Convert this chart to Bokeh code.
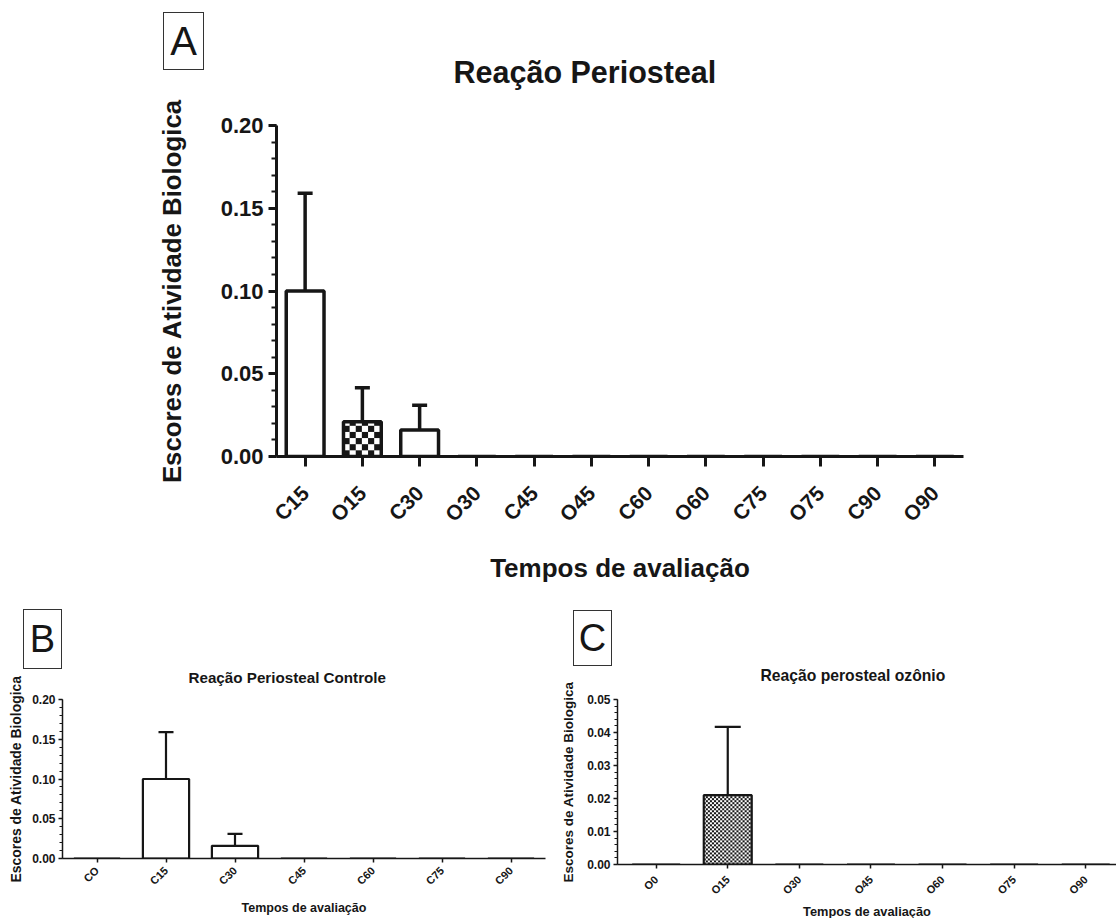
import math
import numpy as np
from bokeh.plotting import figure
from bokeh.models import (ColumnDataSource, Range1d, FixedTicker, SingleIntervalTicker,
                          NumeralTickFormatter, Whisker, TeeHead, Div)
from bokeh.layouts import column, row
from bokeh.embed import file_html
from bokeh.resources import INLINE

# ---------------- data ----------------
cats_a = ["C15", "O15", "C30", "O30", "C45", "O45", "C60", "O60", "C75", "O75", "C90", "O90"]
mean_a = [0.100, 0.021, 0.016, 0, 0, 0, 0, 0, 0, 0, 0, 0]
err_a = [0.059, 0.0205, 0.015, 0, 0, 0, 0, 0, 0, 0, 0, 0]

cats_b = ["CO", "C15", "C30", "C45", "C60", "C75", "C90"]
mean_b = [0, 0.100, 0.016, 0, 0, 0, 0]
err_b = [0, 0.059, 0.015, 0, 0, 0, 0]

cats_c = ["O0", "O15", "O30", "O45", "O60", "O75", "O90"]
mean_c = [0, 0.021, 0, 0, 0, 0, 0]
err_c = [0, 0.0207, 0, 0, 0, 0, 0]

title_a = "Reação Periosteal"
title_b = "Reação Periosteal Controle"
title_c = "Reação perosteal ozônio"
ylab = "Escores de Atividade Biologica"
xlab = "Tempos de avaliação"

FONT = "Liberation Sans"
INK = "#161616"
BLACK_PX = np.uint32(0xFF161616)
WHITE_PX = np.uint32(0xFFFFFFFF)


def panel(cats, means, errs, ymax, yint, st):
    n = len(cats)
    x0, x1 = st.get("xstart", -0.5), st.get("xend", n - 0.5)
    p = figure(frame_width=st["fw"], frame_height=st["fh"],
               min_border_left=st["bl"], min_border_right=st["br"],
               min_border_top=st["bt"], min_border_bottom=st["bb"],
               x_range=Range1d(x0, x1), y_range=Range1d(0, ymax),
               output_backend="svg", toolbar_location=None)
    p.outline_line_color = None
    p.xgrid.visible = False
    p.ygrid.visible = False
    p.background_fill_color = "white"
    p.border_fill_color = "white"

    xs = list(range(n))
    is_o = [c.startswith("O") for c in cats]
    src = ColumnDataSource(dict(x=xs, top=means))
    # white bars
    p.vbar(x="x", top="top", bottom=0, width=st["bw"], source=src,
           fill_color="white", line_color=None)
    # checkered fill for the ozone ("O") bars
    ppx = st["fw"] / (x1 - x0)
    ppy = st["fh"] / ymax
    sq = st["sq"]
    for x, t, o in zip(xs, means, is_o):
        if not o or t <= 0:
            continue
        ny = max(1, int(round(t * ppy)))
        nx = max(1, int(round(st["bw"] * ppx)))
        jj, ii = np.meshgrid(np.arange(nx), np.arange(ny))
        mask = ((ii // sq) + (jj // sq)) % 2 == 0
        img = np.where(mask, BLACK_PX, WHITE_PX).astype(np.uint32)
        p.image_rgba(image=[img], x=x - st["bw"] / 2, y=0, dw=st["bw"], dh=t)
    # outlines
    p.vbar(x="x", top="top", bottom=0, width=st["bw"], source=src,
           fill_color=None, line_color=INK, line_width=st["lw"])

    sel = [i for i in xs if errs[i] > 0]
    esrc = ColumnDataSource(dict(x=[xs[i] for i in sel], lo=[means[i] for i in sel],
                                 hi=[means[i] + errs[i] for i in sel]))
    w = Whisker(source=esrc, base="x", lower="lo", upper="hi", dimension="height",
                line_color=INK, line_width=st["lw"], lower_head=None,
                upper_head=TeeHead(size=st["cap"], line_color=INK, line_width=st["lw"]))
    p.add_layout(w)

    xa = p.xaxis[0]
    xa.ticker = FixedTicker(ticks=xs)
    xa.major_label_overrides = {i: c for i, c in enumerate(cats)}
    xa.major_label_orientation = math.pi / 4
    xa.major_label_text_font = FONT
    xa.major_label_text_font_style = "bold"
    xa.major_label_text_font_size = st["xt"]
    xa.major_label_text_color = INK
    xa.major_label_standoff = st["xls"]
    xa.axis_line_width = st["aw"]
    xa.axis_line_color = INK
    xa.major_tick_line_width = st["aw"]
    xa.major_tick_line_color = INK
    xa.major_tick_out = st["xto"]
    xa.major_tick_in = 0
    xa.minor_tick_line_color = None
    xa.axis_label = xlab
    xa.axis_label_text_font = FONT
    xa.axis_label_text_font_style = "bold"
    xa.axis_label_text_font_size = st["xl"]
    xa.axis_label_text_color = INK
    xa.axis_label_standoff = st["xas"]

    ya = p.yaxis[0]
    ya.ticker = SingleIntervalTicker(interval=yint, num_minor_ticks=5)
    ya.formatter = NumeralTickFormatter(format="0.00")
    ya.major_label_text_font = FONT
    ya.major_label_text_font_style = "bold"
    ya.major_label_text_font_size = st["yt"]
    ya.major_label_text_color = INK
    ya.major_label_standoff = st["yls"]
    ya.axis_line_width = st["aw"]
    ya.axis_line_color = INK
    ya.major_tick_line_width = st["aw"]
    ya.major_tick_line_color = INK
    ya.major_tick_out = st["yto"]
    ya.major_tick_in = 0
    ya.minor_tick_line_width = st["mw"]
    ya.minor_tick_line_color = INK
    ya.minor_tick_out = st["mto"]
    ya.minor_tick_in = 0
    ya.axis_label = ylab
    ya.axis_label_text_font = FONT
    ya.axis_label_text_font_style = "bold"
    ya.axis_label_text_font_size = st["yl"]
    ya.axis_label_text_color = INK
    ya.axis_label_standoff = st["yas"]

    p.title.text = st["title"]
    p.title.align = "left"
    p.title.offset = st["to"]
    p.title.text_font = FONT
    p.title.text_font_style = "bold"
    p.title.text_font_size = st["tf"]
    p.title.text_color = INK
    p.title.standoff = st["ts"]
    return p


def letter(ch, w, h, fs, margin):
    html = ('<div style="box-sizing:border-box;width:%dpx;height:%dpx;border:1.5px solid #333;'
            'display:flex;align-items:center;justify-content:center;'
            "font-family:'Liberation Sans',Arial,sans-serif;font-size:%dpx;line-height:1;"
            'color:#161616;background:transparent;">%s</div>' % (w, h, fs, ch))
    return Div(text=html, width=w, height=h, margin=margin)


st_a = dict(fw=687, fh=331, bl=276, br=153, bt=125, bb=132, bw=0.66, lw=3.5, sq=6, cap=15,
            xt="21px", xls=23, aw=3, xto=10, xl="26px", xas=16,
            yt="22px", yls=5, yto=8, mw=2, mto=5, yl="25.8px", yas=32,
            title=title_a, tf="30.5px", ts=73, to=177)
st_b = dict(fw=483, fh=159, bl=62, br=11, bt=111, bb=60, bw=0.67, lw=2.2, sq=2, cap=15,
            xt="11px", xls=6, aw=1.5, xto=4, xl="12.5px", xas=7,
            yt="12px", yls=3, yto=4, mw=1, mto=3, yl="13.9px", yas=5,
            title=title_b, tf="15.2px", ts=27, to=126)
st_c = dict(fw=499, fh=165, bl=61, br=0, bt=105, bb=60, bw=0.67, lw=2.2, sq=2, cap=26,
            xt="11px", xls=9, aw=1.5, xto=4, xl="12.8px", xas=0,
            yt="12px", yls=3, yto=4, mw=1, mto=3, yl="13.5px", yas=8,
            title=title_c, tf="15.7px", ts=32, to=143, xstart=-0.54, xend=6.43)

pa = panel(cats_a, mean_a, err_a, 0.2, 0.05, st_a)
pb = panel(cats_b, mean_b, err_b, 0.2, 0.05, st_b)
pc = panel(cats_c, mean_c, err_c, 0.05, 0.01, st_c)

div_a = letter("A", 41, 58, 40, (12 - 588, 0, 588 - 70, 163))
div_b = letter("B", 39, 60, 38, (0, 0, 0, 23))
div_c = letter("C", 39, 56, 38, (1, 0, 3, 511))
overlay_bc = row(div_b, div_c, margin=(609 - 918, 0, 918 - 669, 0))

layout = column(pa, div_a, row(pb, pc), overlay_bc)
open("out.html", "w").write(file_html(layout, INLINE))
